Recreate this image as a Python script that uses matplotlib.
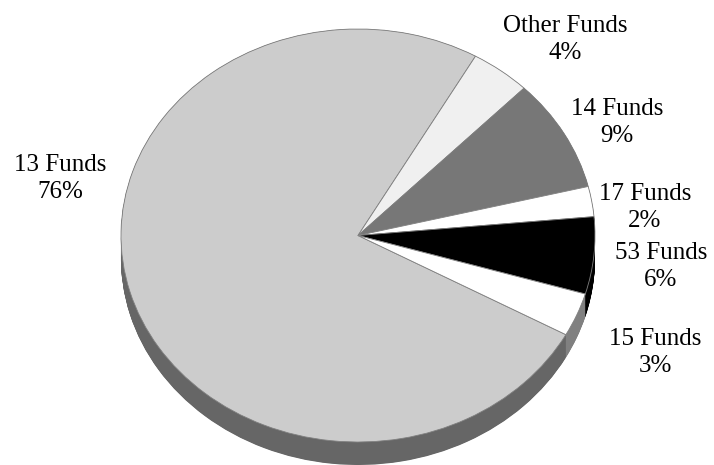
import numpy as np
import matplotlib
matplotlib.use('Agg')
import matplotlib.pyplot as plt

# Shares, going clockwise from the big slice
funds = ['13 Funds', 'Other Funds', '14 Funds', '17 Funds', '53 Funds', '15 Funds']
shares = [75.3, 4.1, 8.83, 2.36, 6.03, 3.4]
percents = ['76%', '4%', '9%', '2%', '6%', '3%']
top_colors = ['#cccccc', '#f0f0f0', '#777777', '#ffffff', '#000000', '#ffffff']
side_colors = ['#666666', '#787878', '#3c3c3c', '#808080', '#000000', '#808080']

# Label centres in pixels of the 714x465 picture
label_x = [60, 565, 617, 645, 661, 655]
label_y = [178.5, 39.5, 122.5, 207.5, 266.5, 352.5]

W, H = 714, 465
cx, cy = 358, 235.5
rx, ry = 237, 206.5
depth = 23 / ry
start = -28.7  # 13 Funds slice starts here and runs clockwise

plt.rcParams['font.family'] = ['Liberation Serif', 'DejaVu Serif']

fig = plt.figure(figsize=(W / 100, H / 100), dpi=100)
ax = fig.add_axes([0, 0, 1, 1])

# extruded rim: stacked copies of the pie, bottom to top
for d in np.linspace(depth, 0, 47):
    ax.pie(shares, colors=side_colors, startangle=start, counterclock=False,
           center=(0, -d), radius=1, normalize=True,
           wedgeprops={'linewidth': 0})

# top face
ax.pie(shares, colors=top_colors, startangle=start, counterclock=False,
       center=(0, 0), radius=1, normalize=True,
       wedgeprops={'linewidth': 0.6, 'edgecolor': '#808080'})

ax.set_aspect(ry / rx)
ax.set_xlim(-cx / rx, (W - cx) / rx)
ax.set_ylim((cy - H) / ry, cy / ry)
ax.axis('off')

for name, pct, x, y in zip(funds, percents, label_x, label_y):
    fig.text(x / W, 1 - y / H, name + '\n' + pct, ha='center', va='center',
             fontsize=18, linespacing=1.3, color='black')

fig.savefig('out.png', dpi=100)
